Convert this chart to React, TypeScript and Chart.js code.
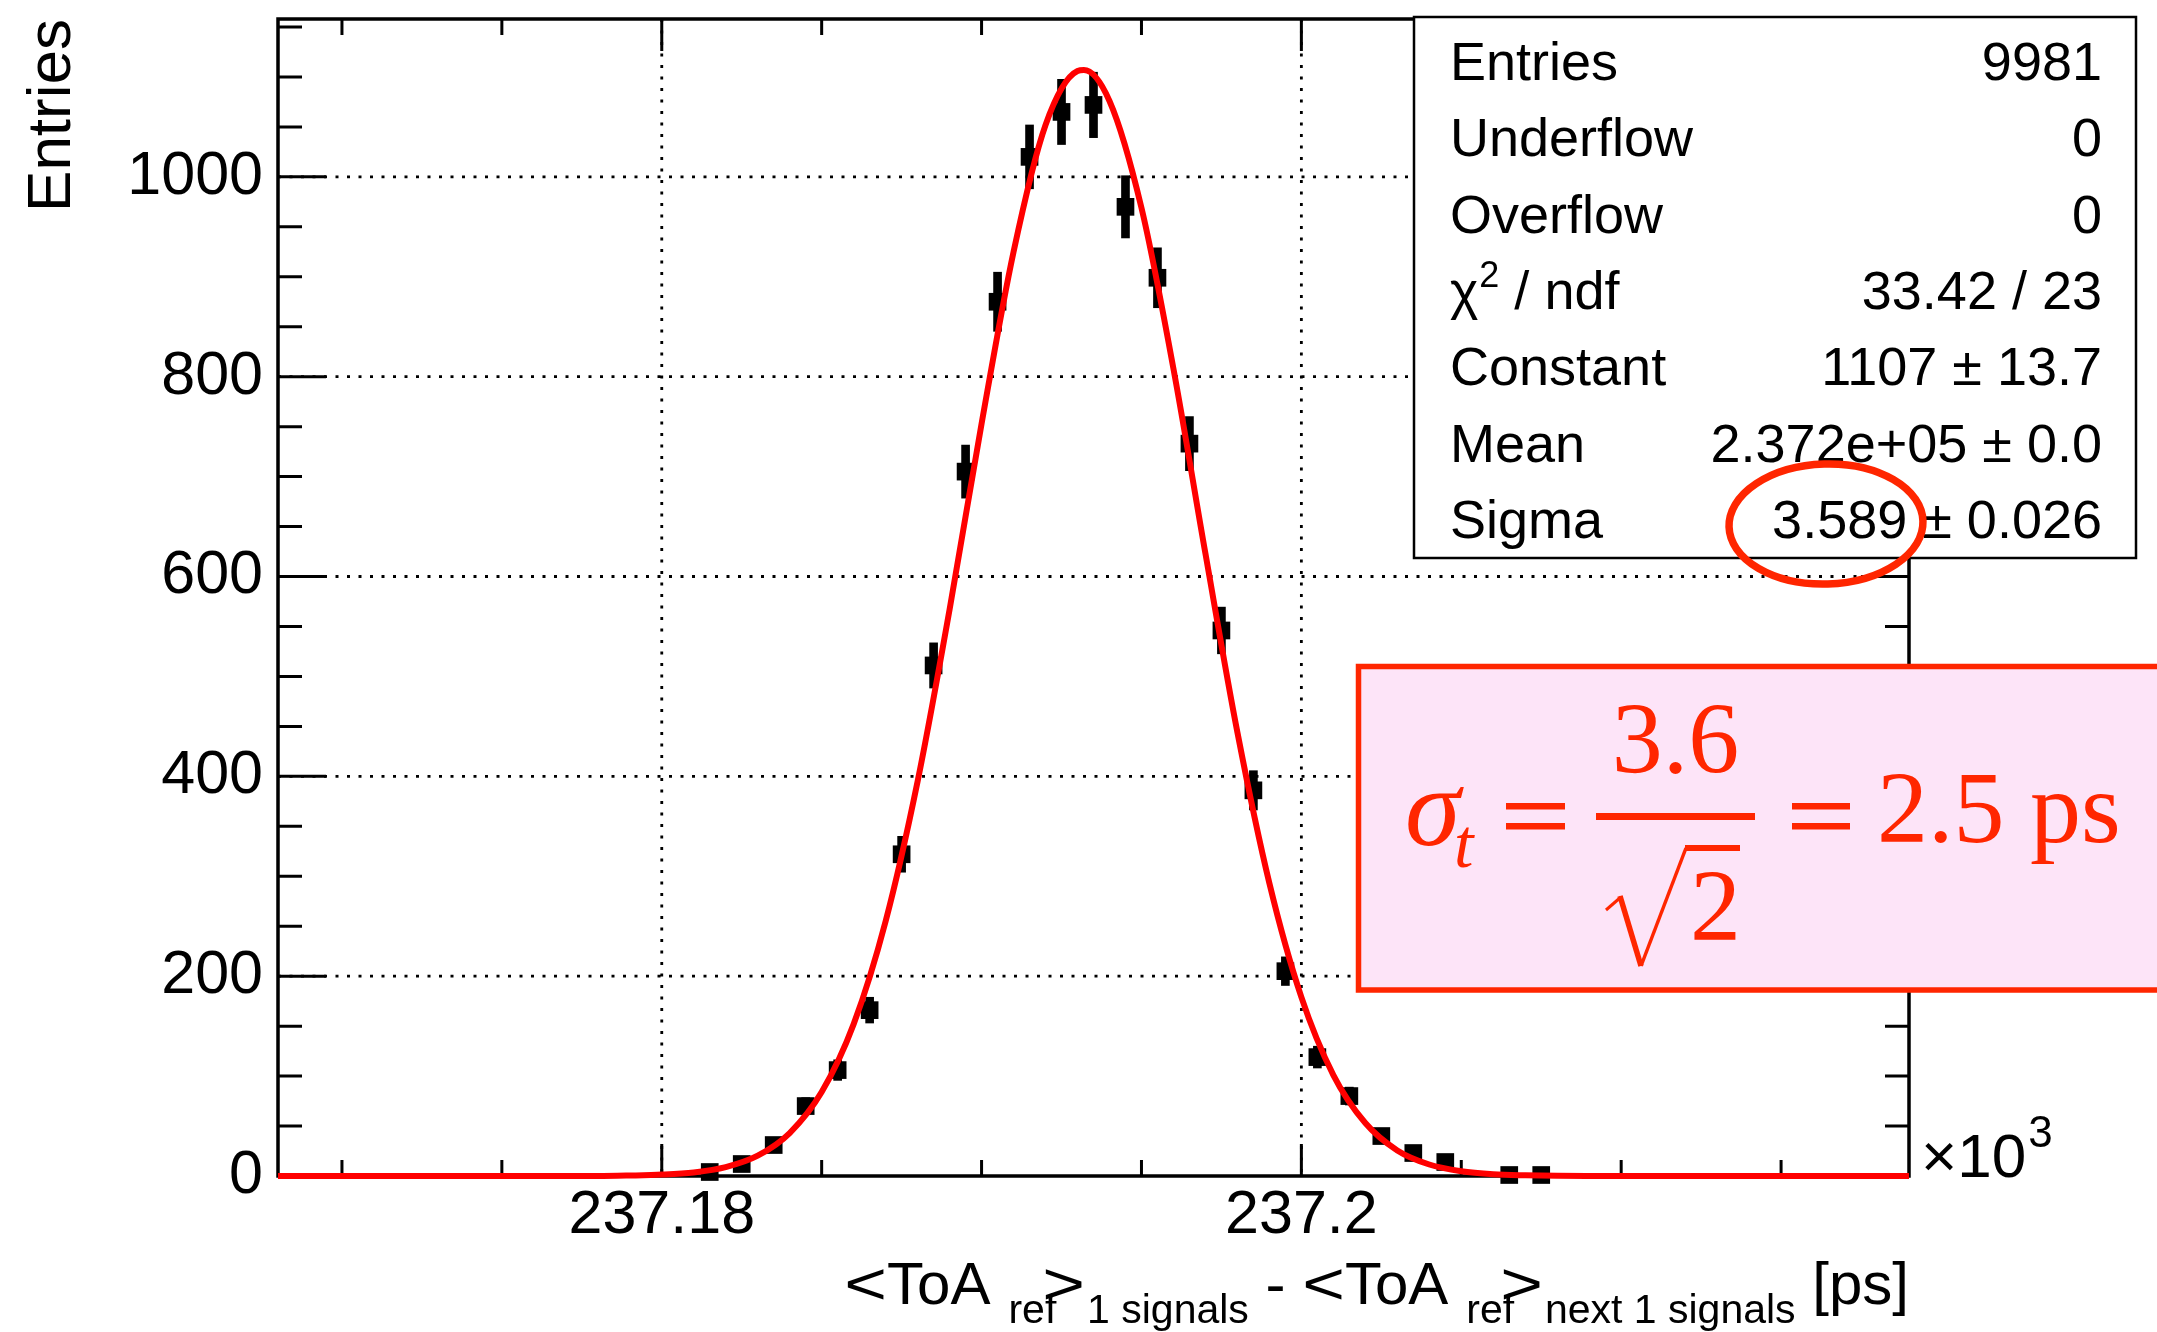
import React, { useEffect, useRef } from "react";
import { Chart, registerables } from "chart.js";

Chart.register(...registerables);

// ---------------- data ----------------
// bin centres in units of 10^3 ps
const binCenters = [
  237.1815, 237.1825, 237.1835, 237.1845, 237.1855, 237.1865, 237.1875, 237.1885,
  237.1895, 237.1905, 237.1915, 237.1925, 237.1935, 237.1945, 237.1955, 237.1965,
  237.1975, 237.1985, 237.1995, 237.2005, 237.2015, 237.2025, 237.2035, 237.2045,
  237.2065, 237.2075,
];
const binCounts = [
  4, 12, 31, 70, 106, 166, 322, 511,
  705, 875, 1020, 1065, 1072, 970, 899, 733,
  546, 386, 205, 119, 80, 40, 23, 14,
  1, 1,
];

// gaussian fit curve
const fitX = [
  237.168, 237.169, 237.17, 237.171, 237.172, 237.173, 237.174, 237.175, 237.176, 237.177, 237.178, 237.179,
  237.18, 237.181, 237.182, 237.183, 237.184, 237.185, 237.186, 237.187, 237.188, 237.189, 237.19, 237.191,
  237.192, 237.193, 237.1932, 237.194, 237.195, 237.196, 237.197, 237.198, 237.199, 237.2, 237.201, 237.202,
  237.203, 237.204, 237.205, 237.206, 237.207, 237.208, 237.209, 237.21, 237.211, 237.212, 237.213, 237.214,
  237.215, 237.216, 237.217, 237.218, 237.219,
];
const fitY = [
  0, 0, 0, 0, 0, 0, 0, 0, 0, 0, 0, 0.5,
  1.4, 3.6, 8.9, 20.3, 43, 84, 152, 255, 395, 567, 753, 925,
  1052, 1106, 1107, 1076, 969, 808, 623, 444, 293, 179, 101, 53,
  25.6, 11.5, 4.8, 1.8, 0.7, 0.2, 0, 0, 0, 0, 0, 0,
  0, 0, 0, 0, 0,
];

const xRange = [237.168, 237.219];
const yRange = [0, 1158];

const xMajorTicks = [237.18, 237.2];
const xTickLabels = ["237.18", "237.2"];
const xMinorTicks = [237.17, 237.175, 237.185, 237.19, 237.195, 237.205, 237.21, 237.215];
const yMajorTicks = [0, 200, 400, 600, 800, 1000];
const yTickLabels = ["0", "200", "400", "600", "800", "1000"];
const yMinorTicks = [50, 100, 150, 250, 300, 350, 450, 500, 550, 650, 700, 750, 850, 900, 950, 1050, 1100, 1150];
const yGridValues = [200, 400, 600, 800, 1000];

const statLabels = ["Entries", "Underflow", "Overflow", "χ2 / ndf", "Constant", "Mean", "Sigma"];
const statValues = ["9981", "0", "0", "33.42 / 23", "1107 ± 13.7", "2.372e+05 ± 0.0", "3.589 ± 0.026"];

// ---------------- layout / style ----------------
const CW = 2157;
const CH = 1332;
const AREA = { left: 278, top: 19, right: 1909, bottom: 1176 };
const SANS = '"Liberation Sans", Arial, Helvetica, sans-serif';
const SERIF = '"Liberation Serif", "Times New Roman", serif';
const RED = "rgb(255,38,0)";

function drawStats(ctx: CanvasRenderingContext2D) {
  const bx = 1414, by = 17, bw = 722, bh = 541;
  ctx.save();
  ctx.fillStyle = "#fff";
  ctx.fillRect(bx, by, bw, bh);
  ctx.strokeStyle = "#000";
  ctx.lineWidth = 2.5;
  ctx.strokeRect(bx, by, bw, bh);
  ctx.fillStyle = "#000";
  ctx.textBaseline = "alphabetic";
  const font = `54px ${SANS}`;
  for (let i = 0; i < statLabels.length; i++) {
    const yb = 80 + i * 76.3;
    ctx.font = font;
    ctx.textAlign = "left";
    if (i === 3) {
      let x = 1450;
      ctx.fillText("χ", x, yb);
      x += ctx.measureText("χ").width + 1;
      ctx.font = `36px ${SANS}`;
      ctx.fillText("2", x, yb - 22);
      x += ctx.measureText("2").width;
      ctx.font = font;
      ctx.fillText(" / ndf", x, yb);
    } else {
      ctx.fillText(statLabels[i], 1450, yb);
    }
    ctx.textAlign = "right";
    ctx.fillText(statValues[i], 2102, yb);
  }
  ctx.restore();
}

function drawFormula(ctx: CanvasRenderingContext2D) {
  ctx.save();
  // box
  ctx.fillStyle = "rgb(253,228,248)";
  ctx.fillRect(1358, 666, CW - 1358 + 20, 324);
  ctx.strokeStyle = RED;
  ctx.lineWidth = 5.5;
  ctx.strokeRect(1358.5, 666.5, CW - 1358 + 20, 323.5);

  ctx.fillStyle = RED;
  ctx.textBaseline = "alphabetic";
  ctx.textAlign = "left";
  ctx.font = `italic 112px ${SERIF}`;
  ctx.fillText("σ", 1405, 845);
  ctx.font = `italic 70px ${SERIF}`;
  ctx.fillText("t", 1454, 867);
  // equal signs
  ctx.fillRect(1506, 803, 59, 6.5);
  ctx.fillRect(1506, 823, 59, 6.5);
  ctx.fillRect(1792, 803, 58, 6.5);
  ctx.fillRect(1792, 823, 58, 6.5);
  ctx.font = `102px ${SERIF}`;
  ctx.fillText("2.5 ps", 1877, 842);
  ctx.textAlign = "center";
  ctx.fillText("3.6", 1675.5, 773);
  ctx.textAlign = "left";
  ctx.fillText("2", 1690, 940);
  // fraction bar
  ctx.fillRect(1596, 813, 159, 7);
  // radical
  ctx.strokeStyle = RED;
  ctx.lineCap = "butt";
  ctx.lineJoin = "miter";
  ctx.lineWidth = 3;
  ctx.beginPath();
  ctx.moveTo(1606, 910);
  ctx.lineTo(1621, 897);
  ctx.stroke();
  ctx.lineWidth = 5.5;
  ctx.beginPath();
  ctx.moveTo(1620, 896);
  ctx.lineTo(1641, 966);
  ctx.stroke();
  ctx.lineWidth = 3.5;
  ctx.beginPath();
  ctx.moveTo(1641, 966);
  ctx.lineTo(1686, 848);
  ctx.stroke();
  ctx.fillRect(1685, 845, 55, 6);
  ctx.restore();
}

function drawEllipse(ctx: CanvasRenderingContext2D) {
  ctx.save();
  ctx.strokeStyle = RED;
  ctx.lineWidth = 7.5;
  ctx.beginPath();
  ctx.ellipse(1826, 524, 97, 60, -0.03, 0, Math.PI * 2);
  ctx.stroke();
  ctx.restore();
}

function drawXTitle(ctx: CanvasRenderingContext2D) {
  // [text, kind, extra offset before]
  const segs: [string, string, number][] = [
    ["<", "br", 0], ["ToA", "m", 0], ["ref", "s", 18], [">", "br", -14], ["1 signals", "s", 2], [" - ", "m", 0],
    ["<", "br", 0], ["ToA", "m", 0], ["ref", "s", 18], [">", "br", -14], ["next 1 signals", "s", 2], [" [ps]", "m", 0],
  ];
  const mainF = `60px ${SANS}`;
  const subF = `41px ${SANS}`;
  const stretch = 1.22;
  ctx.save();
  ctx.fillStyle = "#000";
  ctx.textBaseline = "alphabetic";
  ctx.textAlign = "left";
  const widthOf = (t: string, k: string) => {
    ctx.font = k === "s" ? subF : mainF;
    const w = ctx.measureText(t).width;
    return k === "br" ? w * stretch : w;
  };
  let total = 0;
  for (const [t, k, off] of segs) total += off + widthOf(t, k);
  let x = AREA.right - total;
  for (const [t, k, off] of segs) {
    x += off;
    const w = widthOf(t, k);
    if (k === "br") {
      ctx.save();
      ctx.translate(x, 1304);
      ctx.scale(stretch, 1);
      ctx.fillText(t, 0, 0);
      ctx.restore();
    } else {
      ctx.fillText(t, x, k === "s" ? 1323 : 1304);
    }
    x += w;
  }
  // x 10^3
  ctx.font = `62px ${SANS}`;
  ctx.fillText("×10", 1921, 1177);
  const w3 = ctx.measureText("×10").width;
  ctx.font = `44px ${SANS}`;
  ctx.fillText("3", 1921 + w3 + 2, 1147);
  ctx.restore();
}

const rootStyle = {
  id: "rootStyle",
  beforeDatasetsDraw(chart: any) {
    const { ctx, chartArea: a, scales } = chart;
    const xs = scales.x;
    const ys = scales.y;
    ctx.save();
    ctx.strokeStyle = "#000";
    // dotted grid
    ctx.lineWidth = 2.8;
    ctx.setLineDash([3, 8.5]);
    ctx.beginPath();
    xMajorTicks.forEach((v) => {
      const p = xs.getPixelForValue(v);
      ctx.moveTo(p, a.top);
      ctx.lineTo(p, a.bottom);
    });
    yGridValues.forEach((v) => {
      const p = ys.getPixelForValue(v);
      ctx.moveTo(a.left, p);
      ctx.lineTo(a.right, p);
    });
    ctx.stroke();
    ctx.setLineDash([]);
    // inward ticks
    ctx.lineWidth = 3;
    ctx.beginPath();
    const xt = (v: number, len: number) => {
      const p = xs.getPixelForValue(v);
      ctx.moveTo(p, a.bottom);
      ctx.lineTo(p, a.bottom - len);
      ctx.moveTo(p, a.top);
      ctx.lineTo(p, a.top + len);
    };
    const yt = (v: number, len: number) => {
      const p = ys.getPixelForValue(v);
      ctx.moveTo(a.left, p);
      ctx.lineTo(a.left + len, p);
      ctx.moveTo(a.right, p);
      ctx.lineTo(a.right - len, p);
    };
    xMajorTicks.forEach((v) => xt(v, 32));
    xMinorTicks.forEach((v) => xt(v, 16));
    yMajorTicks.forEach((v) => yt(v, 48));
    yMinorTicks.forEach((v) => yt(v, 24));
    ctx.stroke();
    // frame
    ctx.lineWidth = 3.5;
    ctx.strokeRect(a.left, a.top, a.right - a.left, a.bottom - a.top);
    ctx.restore();
  },
  afterDatasetsDraw(chart: any) {
    const ctx = chart.ctx as CanvasRenderingContext2D;
    drawStats(ctx);
    drawFormula(ctx);
    drawEllipse(ctx);
    drawXTitle(ctx);
  },
};

const noPad = (s: any) => {
  s.paddingTop = 0;
  s.paddingBottom = 0;
  s.paddingLeft = 0;
  s.paddingRight = 0;
};

export default function App() {
  const ref = useRef<HTMLCanvasElement>(null);
  useEffect(() => {
    document.body.style.margin = "0";
    document.body.style.overflow = "hidden";
    Chart.defaults.color = "#000";
    Chart.defaults.font.family = SANS;

    const errData = binCounts.map((c, i) => ({
      x: binCenters[i],
      y: [c - Math.sqrt(c), c + Math.sqrt(c)],
    }));
    const ptData = binCounts.map((c, i) => ({ x: binCenters[i], y: c }));
    const fitData = fitX.map((x, i) => ({ x, y: fitY[i] }));

    const chart = new Chart(ref.current as HTMLCanvasElement, {
      type: "scatter",
      data: {
        datasets: [
          {
            type: "line",
            label: "fit",
            data: fitData,
            borderColor: "rgb(255,0,0)",
            borderWidth: 6,
            pointRadius: 0,
            cubicInterpolationMode: "monotone",
            fill: false,
            clip: 12,
            order: 0,
          } as any,
          {
            type: "scatter",
            label: "points",
            data: ptData,
            pointStyle: "rect",
            pointRadius: 12.5,
            pointBorderWidth: 0,
            backgroundColor: "#000",
            borderColor: "#000",
            clip: 20,
            order: 1,
          } as any,
          {
            type: "bar",
            label: "errors",
            data: errData,
            backgroundColor: "#000",
            borderWidth: 0,
            barThickness: 8,
            clip: 20,
            order: 2,
          } as any,
        ],
      },
      options: {
        animation: false,
        responsive: false,
        devicePixelRatio: 1,
        layout: { autoPadding: false, padding: { top: AREA.top, right: CW - AREA.right, left: 0, bottom: 0 } },
        plugins: { legend: { display: false }, tooltip: { enabled: false } },
        scales: {
          x: {
            type: "linear",
            position: "bottom",
            min: xRange[0],
            max: xRange[1],
            offset: false,
            grid: { display: false, drawTicks: false, offset: false },
            border: { display: false },
            afterBuildTicks: (s: any) => {
              s.ticks = xMajorTicks.map((v) => ({ value: v }));
            },
            afterFit: (s: any) => {
              s.height = CH - AREA.bottom;
              noPad(s);
            },
            ticks: {
              autoSkip: false,
              maxRotation: 0,
              minRotation: 0,
              padding: 4,
              color: "#000",
              font: { family: SANS, size: 61 },
              callback: (_v: any, i: number) => xTickLabels[i],
            },
          },
          y: {
            type: "linear",
            min: yRange[0],
            max: yRange[1],
            grid: { display: false, drawTicks: false },
            border: { display: false },
            afterBuildTicks: (s: any) => {
              s.ticks = yMajorTicks.map((v) => ({ value: v }));
            },
            afterFit: (s: any) => {
              s.width = AREA.left;
              noPad(s);
            },
            ticks: {
              autoSkip: false,
              padding: 15,
              color: "#000",
              font: { family: SANS, size: 61 },
              callback: (_v: any, i: number) => yTickLabels[i],
            },
            title: {
              display: true,
              text: "Entries",
              align: "end",
              color: "#000",
              font: { family: SANS, size: 62 },
              padding: { top: 16, bottom: 0 },
            },
          },
        },
      } as any,
      plugins: [rootStyle],
    } as any);
    return () => chart.destroy();
  }, []);

  return (
    <canvas
      ref={ref}
      width={CW}
      height={CH}
      style={{ display: "block", width: CW, height: CH }}
    />
  );
}
